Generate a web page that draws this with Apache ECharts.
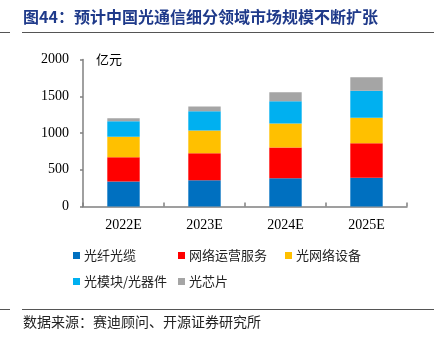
<!DOCTYPE html>
<html><head><meta charset="utf-8">
<script src="https://cdn.jsdelivr.net/npm/echarts@6/dist/echarts.min.js"></script>
<style>html,body{margin:0;padding:0;background:#fff}#c{width:434px;height:337px}</style>
</head><body><div id="c"></div>
<script>
const categories = ['2022E', '2023E', '2024E', '2025E'];
const fiberCable = [340, 358, 385, 390];
const networkOps = [331, 367, 418, 471];
const opticalEquip = [277, 309, 326, 346];
const modules = [213, 263, 304, 367];
const chips = [40, 64, 122, 185];
const yTicks = [0, 500, 1000, 1500, 2000];
const seriesNames = ['光纤光缆', '网络运营服务', '光网络设备', '光模块/光器件', '光芯片'];
const seriesData = [fiberCable, networkOps, opticalEquip, modules, chips];
const colors = ['#0070C0', '#FF0000', '#FFC000', '#00B0F0', '#A5A5A5'];

const legendPos = [[73, 249], [178, 249], [285, 249], [73, 275], [178, 275]];
const serif = '"Liberation Serif","Times New Roman",serif';
const cjk = '"Noto Sans CJK SC",sans-serif';

const chart = echarts.init(document.getElementById('c'), null, {renderer: 'canvas'});
chart.setOption({
  animation: false,
  color: colors,
  grid: {left: 83, right: 27, top: 59.5, bottom: 130.5, containLabel: false},
  xAxis: {
    type: 'category', data: categories,
    axisLine: {lineStyle: {color: '#808080', width: 1.5}},
    axisTick: {show: true, inside: true, length: 4, lineStyle: {color: '#808080', width: 1.5}},
    axisLabel: {color: '#000', fontFamily: serif, fontSize: 14, margin: 12}
  },
  yAxis: {
    type: 'value', min: yTicks[0], max: yTicks[yTicks.length - 1], interval: yTicks[1] - yTicks[0],
    splitLine: {show: false},
    axisLine: {show: true, lineStyle: {color: '#808080', width: 1.5}},
    axisTick: {show: true, length: 3, lineStyle: {color: '#808080', width: 1.5}},
    axisLabel: {color: '#000', fontFamily: serif, fontSize: 14, margin: 14, formatter: v => String(v)}
  },
  legend: legendPos.map((p, i) => ({
    data: [seriesNames[i]], left: p[0], top: p[1], itemWidth: 7, itemHeight: 7, itemGap: 0,
    icon: 'rect', padding: 0,
    textStyle: {fontFamily: cjk, fontSize: 13, color: '#222', padding: [0, 0, 0, -1]}
  })),
  series: seriesNames.map((n, i) => ({
    name: n, type: 'bar', stack: 'total', data: seriesData[i], barWidth: '40%',
    itemStyle: {color: colors[i]}
  })),
  graphic: [
    {type: 'text', left: 23, top: 9, style: {text: '图44：预计中国光通信细分领域市场规模不断扩张', fill: '#1F3A8A', font: 'bold 16px "Noto Sans CJK SC"'}},
    {type: 'line', shape: {x1: 22, y1: 32.5, x2: 434, y2: 32.5}, style: {stroke: '#555', lineWidth: 1}},
    {type: 'line', shape: {x1: 0, y1: 32.5, x2: 10, y2: 32.5}, style: {stroke: '#555', lineWidth: 1}},
    {type: 'text', left: 96, top: 53, style: {text: '亿元', fill: '#000', font: '13px "Noto Sans CJK SC"'}},
    {type: 'line', shape: {x1: 22, y1: 309.5, x2: 434, y2: 309.5}, style: {stroke: '#555', lineWidth: 1}},
    {type: 'line', shape: {x1: 0, y1: 309.5, x2: 10, y2: 309.5}, style: {stroke: '#555', lineWidth: 1}},
    {type: 'text', left: 23, top: 315, style: {text: '数据来源：赛迪顾问、开源证券研究所', fill: '#222', font: '14px "Noto Sans CJK SC"'}}
  ]
});
</script></body></html>
